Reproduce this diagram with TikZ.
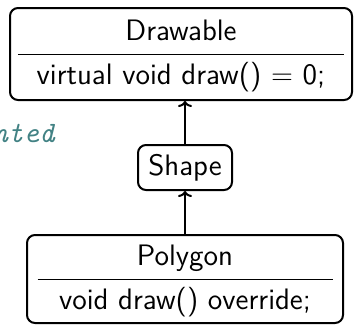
\documentclass[tikz,border=0pt]{standalone}
\usepackage{amsmath}
\usetikzlibrary{arrows.meta}
\definecolor{noteteal}{RGB}{66,130,132}

% one class box: width of the divider, name, member
\newcommand{\umlclass}[3]{\begin{tabular}{@{}c@{}}\makebox[#1]{#2}\\\hline\makebox[#1]{#3}\end{tabular}}
\renewcommand{\arraystretch}{1.2}

\begin{document}
\begin{tikzpicture}[x=0.5pt, y=-0.5pt,
    class/.style={draw, line width=1pt, rounded corners=4pt, font=\fontsize{14.8}{18}\selectfont\sffamily, inner sep=0pt},
    base/.style={class, minimum width=171pt, minimum height=46pt},
    derived/.style={class, minimum width=158pt, minimum height=44pt},
    middle/.style={class, minimum width=47pt, minimum height=22.5pt},
    inherit/.style={line width=1pt, -{To[length=3pt, width=7pt]}},
    note/.style={font=\fontsize{14.8}{18}\selectfont\ttfamily\itshape, text=noteteal, inner sep=0pt}
]
    \useasboundingbox (0,0) rectangle (356,327);

    \node[base] (drawable) at (181,54) {\umlclass{163pt}{Drawable}{virtual void draw() $=$ 0;}};
    \node[middle] (shape) at (185,167.5) {Shape};
    \node[derived] (polygon) at (185,279) {\umlclass{147.5pt}{Polygon}{void draw() override;}};

    \node[note, anchor=base east] (impl) at (55,142) {nted};

    \draw[inherit] (shape.north) -- (shape.north |- drawable.south);
    \draw[inherit] (polygon.north) -- (shape.south);
\end{tikzpicture}
\end{document}
